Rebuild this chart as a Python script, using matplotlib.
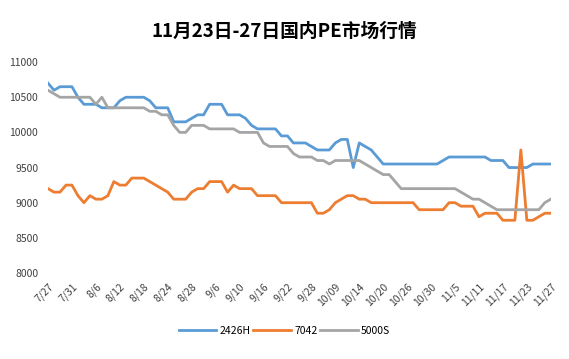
import matplotlib.pyplot as plt
import numpy as np

plt.rcParams['font.family'] = ['Noto Sans CJK SC', 'DejaVu Sans']

tick_labels = ['7/27', '7/31', '8/6', '8/12', '8/18', '8/24', '8/28', '9/6', '9/10', '9/16', '9/22',
               '9/28', '10/09', '10/14', '10/20', '10/26', '10/30', '11/5', '11/11', '11/17', '11/23', '11/27']

s_2426h = [10700, 10600, 10650, 10650, 10650, 10500, 10400, 10400, 10400, 10350,
           10350, 10350, 10450, 10500, 10500, 10500, 10500, 10450, 10350, 10350,
           10350, 10150, 10150, 10150, 10200, 10250, 10250, 10400, 10400, 10400,
           10250, 10250, 10250, 10200, 10100, 10050, 10050, 10050, 10050, 9950,
           9950, 9850, 9850, 9850, 9800, 9750, 9750, 9750, 9850, 9900,
           9900, 9500, 9850, 9800, 9750, 9650, 9550, 9550, 9550, 9550,
           9550, 9550, 9550, 9550, 9550, 9550, 9600, 9650, 9650, 9650,
           9650, 9650, 9650, 9650, 9600, 9600, 9600, 9500, 9500, 9500,
           9500, 9550, 9550, 9550, 9550]

s_7042 = [9200, 9150, 9150, 9250, 9250, 9100, 9000, 9100, 9050, 9050,
          9100, 9300, 9250, 9250, 9350, 9350, 9350, 9300, 9250, 9200,
          9150, 9050, 9050, 9050, 9150, 9200, 9200, 9300, 9300, 9300,
          9150, 9250, 9200, 9200, 9200, 9100, 9100, 9100, 9100, 9000,
          9000, 9000, 9000, 9000, 9000, 8850, 8850, 8900, 9000, 9050,
          9100, 9100, 9050, 9050, 9000, 9000, 9000, 9000, 9000, 9000,
          9000, 9000, 8900, 8900, 8900, 8900, 8900, 9000, 9000, 8950,
          8950, 8950, 8800, 8850, 8850, 8850, 8750, 8750, 8750, 9750,
          8750, 8750, 8800, 8850, 8850]

s_5000s = [10600, 10550, 10500, 10500, 10500, 10500, 10500, 10500, 10400, 10500,
           10350, 10350, 10350, 10350, 10350, 10350, 10350, 10300, 10300, 10250,
           10250, 10100, 10000, 10000, 10100, 10100, 10100, 10050, 10050, 10050,
           10050, 10050, 10000, 10000, 10000, 10000, 9850, 9800, 9800, 9800,
           9800, 9700, 9650, 9650, 9650, 9600, 9600, 9550, 9600, 9600,
           9600, 9600, 9600, 9550, 9500, 9450, 9400, 9400, 9300, 9200,
           9200, 9200, 9200, 9200, 9200, 9200, 9200, 9200, 9200, 9150,
           9100, 9050, 9050, 9000, 8950, 8900, 8900, 8900, 8900, 8900,
           8900, 8900, 8900, 9000, 9050]

x = np.arange(len(s_2426h))

fig = plt.figure(figsize=(5.69, 3.59), dpi=100)
ax = fig.add_axes([0.0844, 0.2396, 0.8836, 0.5874])

ax.plot(x, s_2426h, color='#5B9BD5', lw=2.0, label='2426H')
ax.plot(x, s_7042, color='#ED7D31', lw=2.0, label='7042')
ax.plot(x, s_5000s, color='#A5A5A5', lw=2.0, label='5000S')

ax.set_xlim(0, len(x) - 1)
ax.set_ylim(8000, 11000)
ax.set_yticks(np.arange(8000, 11001, 500))
ax.set_xticks(x[::4])
ax.set_xticklabels(tick_labels, rotation=45, ha='right', rotation_mode='anchor')
ax.tick_params(axis='both', length=0, labelsize=7.5, colors='#404040')
ax.tick_params(axis='y', pad=7)
ax.tick_params(axis='x', pad=6)
for s in ax.spines.values():
    s.set_visible(False)

fig.suptitle('11月23日-27日国内PE市场行情', y=0.94, fontsize=13.5, fontweight='bold')

fig.legend(loc='center', bbox_to_anchor=(0.5, 0.078), ncol=3, frameon=False,
           fontsize=7.5, handlelength=3.6, handletextpad=0.3, columnspacing=0.3)

fig.savefig('out.png', dpi=100)
